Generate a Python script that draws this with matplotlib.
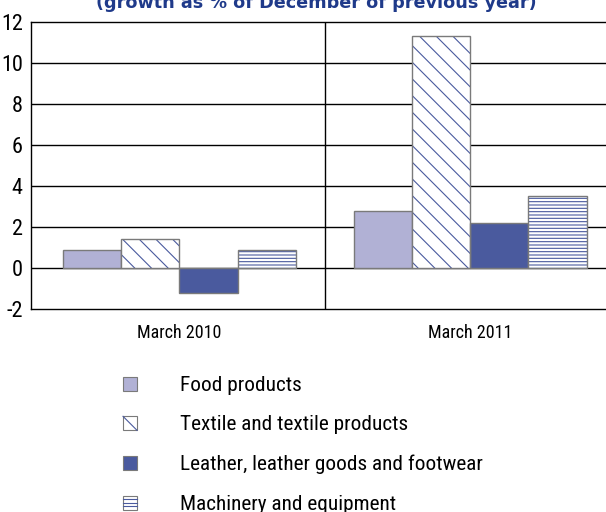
import matplotlib.pyplot as plt
from matplotlib.patches import Patch, Rectangle
from matplotlib.lines import Line2D
from matplotlib.legend_handler import HandlerBase
import numpy as np

plt.rcParams['font.family'] = ['Roboto Condensed', 'DejaVu Sans']
plt.rcParams['hatch.linewidth'] = 0.8

periods = ['March 2010', 'March 2011']
series = ['Food products', 'Textile and textile products',
          'Leather, leather goods and footwear', 'Machinery and equipment']
food = [0.9, 2.8]
textile = [1.4, 11.3]
leather = [-1.2, 2.2]
machinery = [0.9, 3.5]
yticks = [-2, 0, 2, 4, 6, 8, 10, 12]

values = [food, textile, leather, machinery]
faces = ['#b1b1d5', 'white', '#4a5a9e', 'white']
hatches = [None, '\\\\', None, '-----']
hatch_col = '#4a5a9e'
edge_col = '#7a7a7a'


class BoxHandler(HandlerBase):
    # small square legend key, optionally with a diagonal or horizontal lines
    def __init__(self, face, kind):
        super().__init__()
        self.face = face
        self.kind = kind

    def create_artists(self, legend, orig, xd, yd, width, height, fontsize, trans):
        s = min(width, height)
        x0, y0 = xd + (width - s) / 2, yd + (height - s) / 2
        arts = [Rectangle((x0, y0), s, s, facecolor=self.face, edgecolor=edge_col,
                          lw=0.8, transform=trans)]
        if self.kind == 'diag':
            arts.append(Line2D([x0, x0 + s], [y0 + s, y0], color=hatch_col, lw=0.8, transform=trans))
        elif self.kind == 'horiz':
            for f in (0.25, 0.5, 0.75):
                arts.append(Line2D([x0, x0 + s], [y0 + f * s] * 2, color=hatch_col, lw=0.8, transform=trans))
        return arts


fig = plt.figure(figsize=(6.06, 5.12), dpi=100)
ax = fig.add_axes([0.0512, 0.3965, 0.96, 0.5605])

x = np.arange(len(periods))
w = 0.2
for i, vals in enumerate(values):
    pos = x + (i - 1.5) * w
    if hatches[i]:
        # hatch drawn in blue, outline drawn separately in grey
        ax.bar(pos, vals, w, color=faces[i], hatch=hatches[i],
               edgecolor=hatch_col, linewidth=0, zorder=3)
        ax.bar(pos, vals, w, color='none', edgecolor=edge_col,
               linewidth=1, zorder=4)
    else:
        ax.bar(pos, vals, w, color=faces[i], edgecolor=edge_col,
               linewidth=1, zorder=3)

for y in yticks[1:-1]:
    ax.axhline(y, color='black', lw=1, zorder=1)
ax.axvline(0.5, color='black', lw=1, zorder=1)

ax.set_xlim(-0.51, 1.49)
ax.set_ylim(-2, 12)
ax.set_yticks(yticks)
ax.set_yticklabels([str(t) for t in yticks], fontsize=16)
ax.set_xticks(x)
ax.set_xticklabels(periods, fontsize=13)
ax.tick_params(axis='x', length=0, pad=11)
ax.tick_params(axis='y', length=0, pad=6)
ax.spines['right'].set_visible(False)
for s in ['left', 'top', 'bottom']:
    ax.spines[s].set_color('black')
    ax.spines[s].set_linewidth(1)

fig.text(0.522, 1 - 8 / 512, '(growth as % of December of previous year)',
         ha='center', va='baseline', fontsize=12.7, fontweight='bold',
         color='#1f3a8a', family='DejaVu Sans')

handles = [Patch() for _ in series]
kinds = [None, 'diag', None, 'horiz']
hmap = {h: BoxHandler(faces[i], kinds[i]) for i, h in enumerate(handles)}
fig.legend(handles, series, handler_map=hmap, loc='upper left',
           bbox_to_anchor=(0.203, 0.266), frameon=False, fontsize=15.3,
           handlelength=0.66, handleheight=0.66, handletextpad=2.0,
           labelspacing=0.96, borderaxespad=0, borderpad=0)

fig.savefig('out.png', dpi=100)
plt.close()
